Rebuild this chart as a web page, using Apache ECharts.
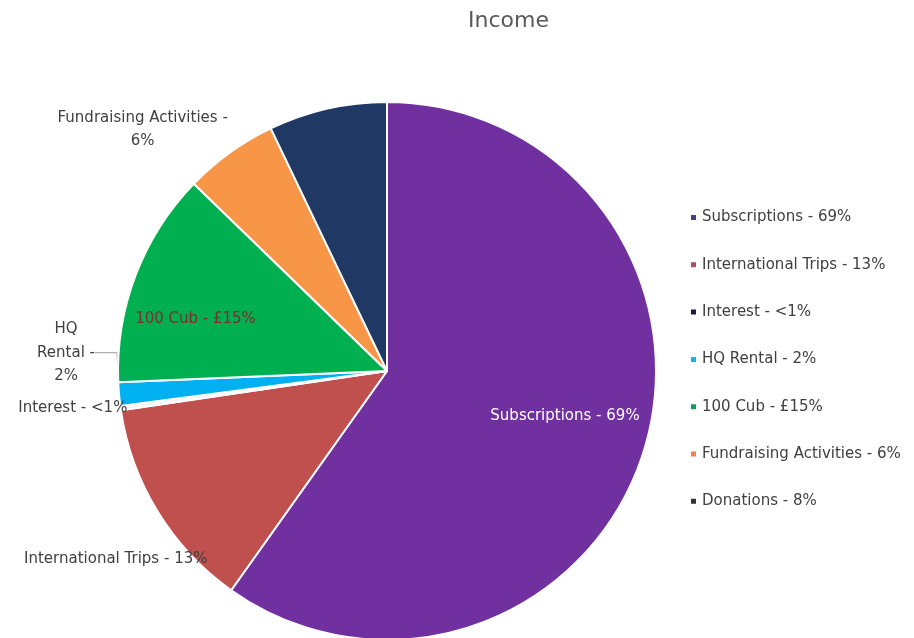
<!DOCTYPE html>
<html><head><meta charset="utf-8">
<script src="https://cdn.jsdelivr.net/npm/echarts@6/dist/echarts.min.js"></script>
<style>html,body{margin:0;padding:0;background:#fff}#c{width:914px;height:638px}</style>
</head><body><div id="c"></div>
<script>
const categories = ["Subscriptions - 69%","International Trips - 13%","Interest - <1%","HQ Rental - 2%","100 Cub - £15%","Fundraising Activities - 6%","Donations - 8%"];
const values = [215.4, 46.2, 0.9, 5.1, 46.5, 20.3, 25.6];
const sliceColors = ["#7030a0","#c0504d","#f4f4f8","#00b0f0","#00b050","#f79646","#1f3864"];
const legendColors = ["#4b3d80","#a8505f","#1a1a3a","#20b0e0","#0e9a5a","#f08050","#333333"];
const labelText = ["Subscriptions - 69%","International Trips - 13%","Interest - <1%","{c|HQ}\n{c|Rental -}\n{c|2%}","100 Cub - £15%","Fundraising Activities -\n6%",""];
const labelOffsets = [[47,3],[-154,116],[-178,18],[0,0],[-63,-3],[-164,-130],[0,0]];
const labelColors = ["#ffffff","#404040","#404040","#404040","#7a2e2e","#404040","#404040"];
const FONT = "DejaVu Sans";

const chart = echarts.init(document.getElementById('c'));
chart.setOption({
  animation:false,
  title:{text:"Income",left:463,top:5,textStyle:{fontFamily:FONT,fontSize:22,fontWeight:'normal',color:"#595959"}},
  legend:{orient:'vertical',left:684,top:205,itemWidth:7,itemHeight:7,itemGap:32.3,icon:'rect',
    textStyle:{fontFamily:FONT,fontSize:15,color:"#404040",lineHeight:15},
    data:categories.map((n,i)=>({name:n,itemStyle:{color:legendColors[i]}}))},
  series:[{type:'pie',center:[387,371],radius:269,startAngle:90,clockwise:true,
    itemStyle:{borderColor:'#fff',borderWidth:2},
    label:{show:true,position:'inside',fontFamily:FONT,fontSize:15,lineHeight:23.5},
    labelLine:{show:false},
    labelLayout:function(p){
      if(p.dataIndex!==3) return {};
      const r=p.labelRect;
      return {x:r.x+r.width+6, y:r.y+r.height/2-42};
    },
    data:categories.map((n,i)=>{
      const d={name:n,value:values[i],itemStyle:{color:sliceColors[i]},
        label:{show:labelText[i]!=="",formatter:labelText[i],offset:labelOffsets[i],color:labelColors[i],align:'center'}};
      if(i===3){
        d.label={show:true,position:'outside',formatter:labelText[i],color:labelColors[i],alignTo:'none',distanceToLabelLine:2,
          rich:{c:{align:'center',fontFamily:FONT,fontSize:15,lineHeight:23.5,color:labelColors[i]}}};
        d.labelLine={show:true,length:6,length2:22,lineStyle:{color:'#9a9a9a',width:1}};
      }
      return d;})
  }]
});
</script></body></html>
